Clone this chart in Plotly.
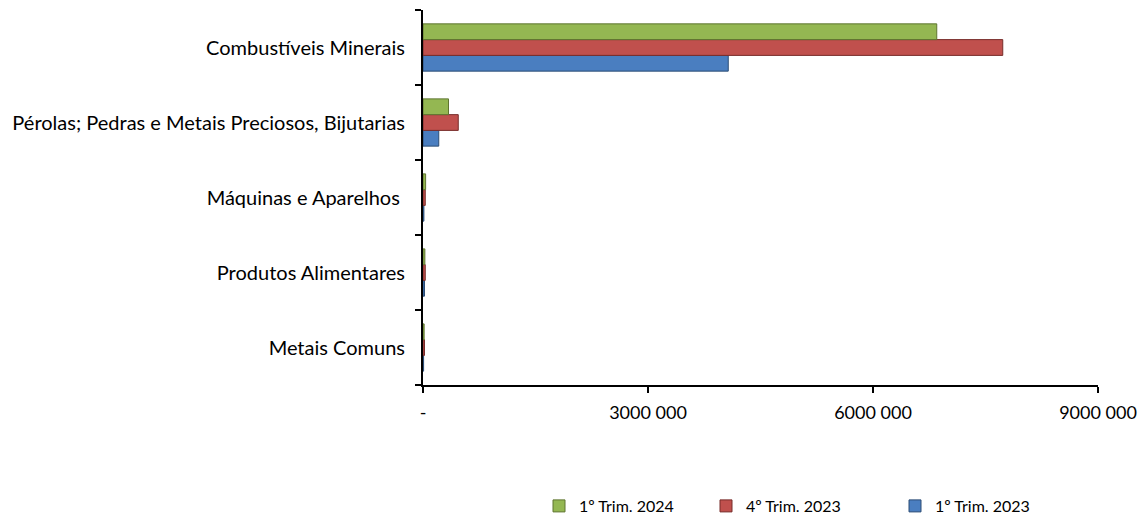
import plotly.graph_objects as go

categories = ["Combustíveis Minerais", "Pérolas; Pedras e Metais Preciosos, Bijutarias",
              "Máquinas e Aparelhos ", "Produtos Alimentares", "Metais Comuns"]
s_2024q1 = [6850000, 340000, 35000, 25000, 15000]
s_2023q4 = [7730000, 470000, 30000, 30000, 20000]
s_2023q1 = [4070000, 210000, 12000, 20000, 8000]
series_names = ["1º Trim. 2024", "4º Trim. 2023", "1º Trim. 2023"]
tick_vals = [0, 3000000, 6000000, 9000000]
tick_text = ["-", "3000 000", "6000 000", "9000 000"]

W, H = 1138, 515

fig = go.Figure()
fig.add_trace(go.Bar(y=categories, x=s_2023q1, name=series_names[2], orientation="h",
                     legend="legend3",
                     marker=dict(color="#4A7EC0", line=dict(color="#2C4D75", width=1))))
fig.add_trace(go.Bar(y=categories, x=s_2023q4, name=series_names[1], orientation="h",
                     legend="legend2",
                     marker=dict(color="#C0504D", line=dict(color="#772C2A", width=1))))
fig.add_trace(go.Bar(y=categories, x=s_2024q1, name=series_names[0], orientation="h",
                     legend="legend",
                     marker=dict(color="#94B752", line=dict(color="#5F7530", width=1))))

leg_common = dict(orientation="h", xref="container", yref="container", y=9 / H,
                  yanchor="middle", xanchor="left", font=dict(size=16),
                  itemwidth=30, bgcolor="rgba(0,0,0,0)")
fig.update_layout(
    width=W, height=H,
    paper_bgcolor="white", plot_bgcolor="white",
    barmode="group", bargap=0.37, bargroupgap=0,
    margin=dict(l=423, r=40, t=10, b=130, autoexpand=False),
    font=dict(family="Lato, Carlito, Calibri, sans-serif", size=16, color="#000000"),
    legend=dict(x=539 / W, **leg_common),
    legend2=dict(x=706 / W, **leg_common),
    legend3=dict(x=895 / W, **leg_common),
    showlegend=True,
)
fig.update_xaxes(range=[0, 9000000], tickvals=tick_vals, ticktext=tick_text,
                 tickfont=dict(size=18),
                 showgrid=False, zeroline=False, showline=True, linecolor="black",
                 linewidth=2, ticks="outside", ticklen=6, tickwidth=2, tickcolor="black",
                 ticklabelstandoff=4, automargin=False, fixedrange=True)
fig.update_yaxes(categoryorder="array", categoryarray=categories[::-1],
                 tickfont=dict(size=20),
                 showgrid=False, zeroline=False, showline=True, linecolor="black",
                 linewidth=2, ticks="outside", ticklen=6, tickwidth=2, tickcolor="black",
                 tickson="boundaries", ticklabelstandoff=12, automargin=False)

fig.write_html("out.html", config={"displayModeBar": False},
               post_script="document.body.style.margin='0';document.body.style.overflow='hidden';")
